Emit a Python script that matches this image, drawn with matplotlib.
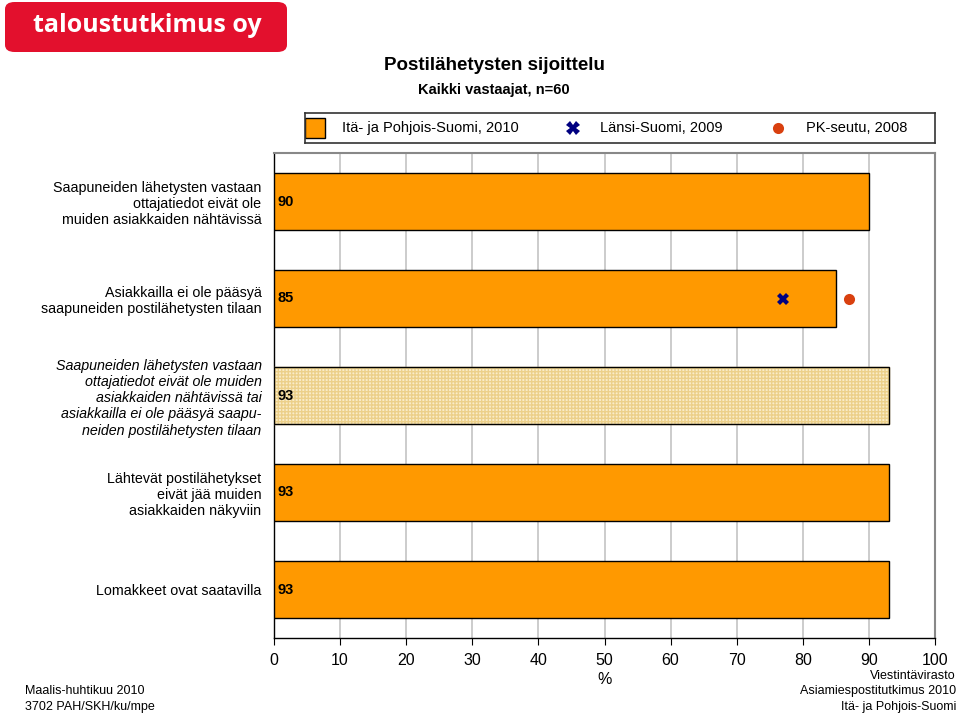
import matplotlib
matplotlib.use("Agg")
from matplotlib import pyplot as plt
from matplotlib.patches import FancyBboxPatch
import numpy as np

plt.rcParams['font.family'] = ['Liberation Sans', 'DejaVu Sans']

# data
categories = [
    "Saapuneiden lähetysten vastaan\nottajatiedot eivät ole\nmuiden asiakkaiden nähtävissä",
    "Asiakkailla ei ole pääsyä\nsaapuneiden postilähetysten tilaan",
    "Saapuneiden lähetysten vastaan\nottajatiedot eivät ole muiden\nasiakkaiden nähtävissä tai\nasiakkailla ei ole pääsyä saapu-\nneiden postilähetysten tilaan",
    "Lähtevät postilähetykset\neivät jää muiden\nasiakkaiden näkyviin",
    "Lomakkeet ovat saatavilla",
]
ita_2010 = [90, 85, 93, 93, 93]
lansi_2009 = [None, 77, None, None, None]
pk_2008 = [None, 87, None, None, None]
series_names = ["Itä- ja Pohjois-Suomi, 2010", "Länsi-Suomi, 2009", "PK-seutu, 2008"]
xticks = list(range(0, 101, 10))

orange = "#ff9900"
navy = "#000080"
red = "#d9400f"

fig = plt.figure(figsize=(9.6, 7.14), dpi=100)

# logo
logo = FancyBboxPatch((5 / 960, 1 - 52 / 714), 282 / 960, 50 / 714,
                      boxstyle="round,pad=0,rounding_size=0.01",
                      transform=fig.transFigure, facecolor="#e3102d",
                      edgecolor="none")
fig.patches.append(logo)
fig.text(147 / 960, 1 - 26 / 714, "taloustutkimus oy", color="white",
         fontsize=18, fontweight="bold", ha="center", va="center",
         family=["Open Sans", "DejaVu Sans"])

# titles
fig.text(494 / 960, 1 - 66 / 714, "Postilähetysten sijoittelu",
         fontsize=13.5, fontweight="bold", ha="center", va="center")
fig.text(494 / 960, 1 - 90 / 714, "Kaikki vastaajat, n=60",
         fontsize=10.5, fontweight="bold", ha="center", va="center")

# main axes
ax = fig.add_axes([274 / 960, 1 - 638 / 714, 661 / 960, 485 / 714])
y = np.arange(len(categories))
bars = ax.barh(y, ita_2010, height=0.59, color=orange, edgecolor="black",
               linewidth=1.0, zorder=3)
# third bar is a combined measure with a pale textured fill
bars[2].set_facecolor("#faecc8")
bars[2].set_hatch("+++++")
bars[2].set_edgecolor("#ecd08a")
ax.barh(y[2], ita_2010[2], height=0.59, color="none", edgecolor="black",
        linewidth=1.0, zorder=4)

for yi, v in zip(y, lansi_2009):
    if v is not None:
        ax.plot(v, yi, marker="X", color=navy, markersize=9, zorder=5,
                markeredgewidth=0)
for yi, v in zip(y, pk_2008):
    if v is not None:
        ax.plot(v, yi, marker="o", color=red, markersize=8, zorder=5,
                markeredgewidth=0)

for yi, v in zip(y, ita_2010):
    ax.text(0.6, yi, str(v), fontsize=10.5, fontweight="bold",
            ha="left", va="center", zorder=6)

ax.set_xlim(0, 100)
ax.set_ylim(len(categories) - 0.5, -0.5)
ax.set_xticks(xticks)
ax.set_xticklabels([str(t) for t in xticks], fontsize=11.5)
ax.set_yticks(y)
ax.set_yticklabels(categories, fontsize=10.3, linespacing=1.2)
ax.get_yticklabels()[2].set_style("italic")
ax.tick_params(axis="y", length=0, pad=9)
ax.tick_params(axis="x", length=5, color="black", pad=6)
ax.xaxis.grid(True, color="#c8c8c8", linewidth=1.3, zorder=0)
ax.set_axisbelow(True)
for side in ["top", "right"]:
    ax.spines[side].set_color("#888888")
    ax.spines[side].set_linewidth(1.5)
for side in ["left", "bottom"]:
    ax.spines[side].set_color("black")
    ax.spines[side].set_linewidth(1.0)
ax.set_xlabel("%", fontsize=11.5, labelpad=3)

# legend box
lax = fig.add_axes([305 / 960, 1 - 143 / 714, 630 / 960, 30 / 714])
lax.set_xlim(0, 630)
lax.set_ylim(0, 30)
lax.set_xticks([])
lax.set_yticks([])
for s in lax.spines.values():
    s.set_linewidth(1.2)
    s.set_color("#333333")
lax.plot(10, 15, marker="s", markersize=14, color=orange,
         markeredgecolor="black", markeredgewidth=1.0)
lax.text(37, 15, series_names[0], fontsize=10.5, va="center")
lax.plot(268, 15, marker="X", markersize=10, color=navy, markeredgewidth=0)
lax.text(295, 15, series_names[1], fontsize=10.5, va="center")
lax.plot(473, 15, marker="o", markersize=8, color=red, markeredgewidth=0)
lax.text(501, 15, series_names[2], fontsize=10.5, va="center")

# footers
fig.text(25 / 960, 1 - 691 / 714, "Maalis-huhtikuu 2010", fontsize=9,
         va="center")
fig.text(25 / 960, 1 - 707 / 714, "3702 PAH/SKH/ku/mpe", fontsize=9,
         va="center")
fig.text(956 / 960, 1 - 676 / 714, "Viestintävirasto", fontsize=9,
         ha="right", va="center")
fig.text(956 / 960, 1 - 691 / 714, "Asiamiespostitutkimus 2010", fontsize=9,
         ha="right", va="center")
fig.text(956 / 960, 1 - 707 / 714, "Itä- ja Pohjois-Suomi", fontsize=9,
         ha="right", va="center")

fig.savefig("out.png", dpi=100)
